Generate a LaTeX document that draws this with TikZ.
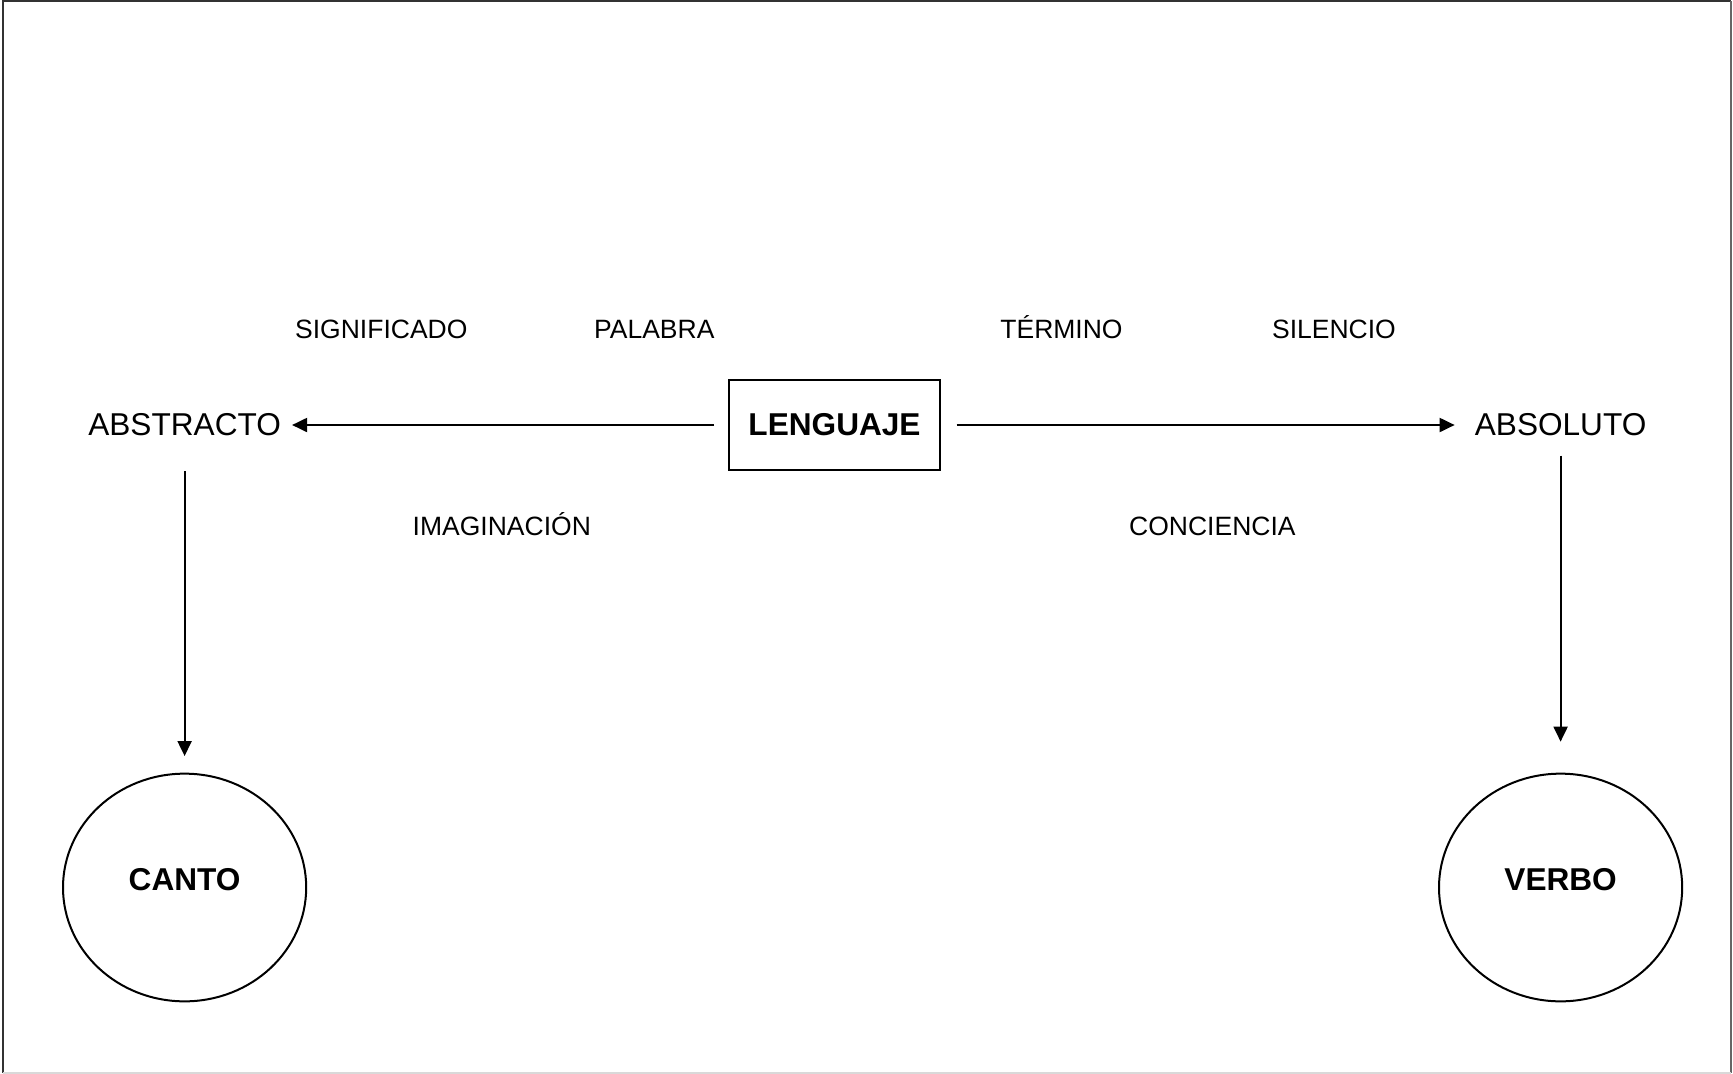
\documentclass[tikz,border=0pt]{standalone}
\usepackage{fontspec}
\setmainfont{Liberation Sans}
\usetikzlibrary{arrows.meta,shapes.geometric}
\begin{document}
\begin{tikzpicture}[x=1pt,y=-1pt,
  big/.style={inner sep=0pt,anchor=base,font=\fontsize{31.6}{36}\selectfont},
  bigb/.style={inner sep=0pt,anchor=base,font=\fontsize{31.6}{36}\selectfont\bfseries},
  small/.style={inner sep=0pt,anchor=base,font=\fontsize{26.5}{30}\selectfont},
  boxnode/.style={draw,line width=2pt,minimum width=211.4pt,minimum height=90pt,inner sep=0pt},
  oval/.style={draw,ellipse,line width=2pt,minimum width=243.2pt,minimum height=227.7pt,inner sep=0pt},
  arr/.style={line width=2pt,-{Triangle[length=15pt,width=14pt]}}
]
\useasboundingbox (0,0) rectangle (1733,1074);
\draw[black!80,line width=2pt] (3,1073) -- (3,1) -- (1731,1);
\draw[black!60,line width=2pt] (1731,1) -- (1731,1073);
\draw[black!15,line width=2pt] (3,1073) -- (1731,1073);

\node[boxnode] (lang) at (834.5,425) {};
\node[bigb] (langtxt) at (834.5,435) {LENGUAJE};
\node[big] (abstr) at (184.6,435) {ABSTRACTO};
\node[big] (absol) at (1560.6,435) {ABSOLUTO};

\node[oval] (canto) at (184.6,887.5) {};
\node[oval] (verbo) at (1560.6,887.5) {};
\node[bigb] (cantotxt) at (184.6,890) {CANTO};
\node[bigb] (verbotxt) at (1560.6,890) {VERBO};

\node[small] (signif) at (381.3,338.8) {SIGNIFICADO};
\node[small] (palabra) at (654.3,338.8) {PALABRA};
\node[small] (termino) at (1061.5,338.8) {TÉRMINO};
\node[small] (silencio) at (1334,338.8) {SILENCIO};
\node[small] (imag) at (501.8,535.5) {IMAGINACIÓN};
\node[small] (conc) at (1212.4,535.5) {CONCIENCIA};

\draw[arr,shorten <=13.8pt,shorten >=11pt] (lang.west) -- (lang.west -| abstr.east);
\draw[arr,shorten <=15.3pt,shorten >=20pt] (lang.east) -- (lang.east -| absol.west);
\draw[arr,shorten <=35.8pt,shorten >=16.6pt] (abstr.south) -- (canto.north);
\draw[arr,shorten <=20pt,shorten >=31pt] (absol.south) -- (verbo.north);
\end{tikzpicture}
\end{document}
